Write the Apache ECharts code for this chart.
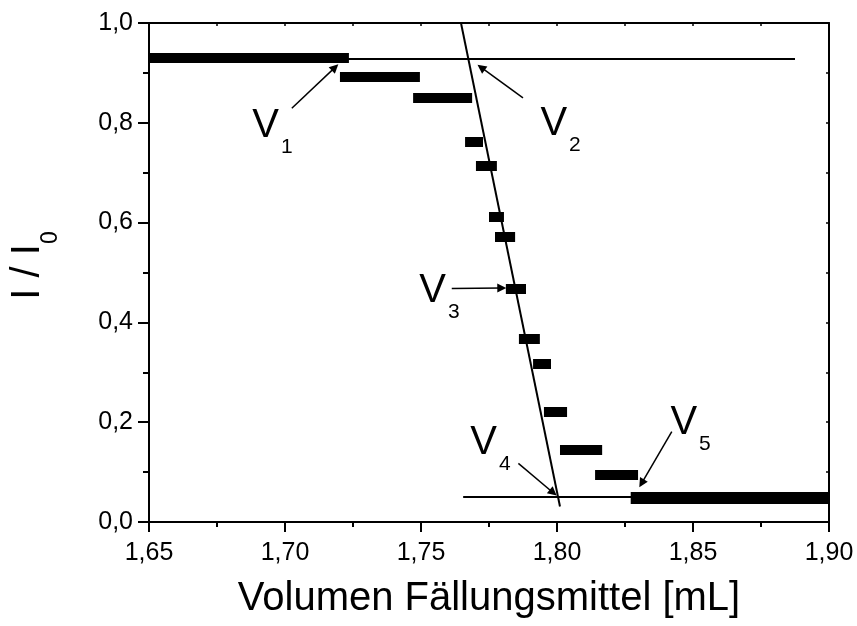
<!DOCTYPE html>
<html>
<head>
<meta charset="utf-8">
<script src="https://cdn.jsdelivr.net/npm/echarts@6/dist/echarts.min.js"></script>
<style>
html,body{margin:0;padding:0;background:#fff;}
#chart{width:857px;height:626px;}
</style>
</head>
<body>
<div id="chart"></div>
<script>
// Plateau segments of the measured curve (volume from / to, I/I0 level)
var segStart = [1.6500, 1.7202, 1.7471, 1.7662, 1.7702, 1.7750, 1.7772, 1.7812, 1.7860, 1.7912, 1.7952, 1.8011, 1.8140, 1.8271];
var segEnd   = [1.7235, 1.7496, 1.7688, 1.7728, 1.7779, 1.7805, 1.7846, 1.7886, 1.7937, 1.7978, 1.8037, 1.8166, 1.8298, 1.9000];
var segLevel = [0.930, 0.893, 0.850, 0.7615, 0.7134, 0.6118, 0.5718, 0.4683, 0.3674, 0.318, 0.221, 0.1449, 0.0948, 0.0491];

// Fitted straight lines (x pair, y pair)
var upperFitX = [1.6500, 1.8875];
var upperFitY = [0.929, 0.929];
var lowerFitX = [1.7655, 1.8500];
var lowerFitY = [0.0507, 0.0507];
var steepFitX = [1.7647, 1.8011];
var steepFitY = [1.000, 0.031];

// Annotation arrows (tail -> head)
var arrowFromX = [1.7025, 1.7875, 1.7613, 1.7858, 1.8422];
var arrowFromY = [0.829, 0.850, 0.468, 0.1176, 0.181];
var arrowToX   = [1.7184, 1.7721, 1.7797, 1.7986, 1.8311];
var arrowToY   = [0.911, 0.911, 0.469, 0.0587, 0.0776];

// Annotation labels V1..V5 (anchor = left edge / middle of "V")
var labelSubs = ['1', '2', '3', '4', '5'];
var labelX = [1.68800, 1.79390, 1.74940, 1.76815, 1.84170];
var labelY = [0.7936, 0.7976, 0.4639, 0.1583, 0.1994];

// Axis settings
var xMin = 1.65, xMax = 1.90, xStep = 0.05;
var yMin = 0.0, yMax = 1.0, yStep = 0.2;
var xTitle = 'Volumen Fällungsmittel [mL]';

var FONT = '"Liberation Sans", Arial, Helvetica, sans-serif';

var barData = segStart.map(function (s, i) {
  return {
    coords: [[s, segLevel[i]], [segEnd[i], segLevel[i]]],
    lineStyle: { width: i === segStart.length - 1 ? 12 : 10 }
  };
});
var fitData = [
  { coords: [[upperFitX[0], upperFitY[0]], [upperFitX[1], upperFitY[1]]] },
  { coords: [[lowerFitX[0], lowerFitY[0]], [lowerFitX[1], lowerFitY[1]]] },
  { coords: [[steepFitX[0], steepFitY[0]], [steepFitX[1], steepFitY[1]]] }
];
var arrowData = arrowFromX.map(function (x, i) {
  return { coords: [[x, arrowFromY[i]], [arrowToX[i], arrowToY[i]]] };
});
var labelData = labelX.map(function (x, i) { return [x, labelY[i]]; });

var chart = echarts.init(document.getElementById('chart'), null, { renderer: 'canvas' });

var axisLineStyle = { color: '#000', width: 2 };

chart.setOption({
  animation: false,
  backgroundColor: '#fff',
  grid: { left: 149, right: 28, top: 23, bottom: 104, containLabel: false },
  xAxis: [{
    type: 'value', min: xMin, max: xMax, interval: xStep, position: 'bottom',
    axisLine: { show: true, onZero: false, lineStyle: axisLineStyle },
    axisTick: { show: true, inside: false, length: 10, lineStyle: { color: '#000', width: 2 } },
    minorTick: { show: true, splitNumber: 2, length: 5, lineStyle: { color: '#000', width: 2 } },
    splitLine: { show: false },
    axisLabel: {
      show: true, margin: 19, color: '#000', fontSize: 25, fontFamily: FONT,
      formatter: function (v) { return v.toFixed(2).replace('.', ','); }
    },
    name: xTitle, nameLocation: 'middle', nameGap: 57,
    nameTextStyle: { color: '#000', fontSize: 40, fontFamily: FONT }
  }, {
    type: 'value', min: xMin, max: xMax, interval: xStep, position: 'top',
    axisLine: { show: true, onZero: false, lineStyle: axisLineStyle },
    axisTick: { show: true, inside: true, length: 3, lineStyle: { color: '#000', width: 1.5 } },
    minorTick: { show: true, splitNumber: 2, length: 3, lineStyle: { color: '#000', width: 1.5 } },
    splitLine: { show: false },
    axisLabel: { show: false }
  }],
  yAxis: [{
    type: 'value', min: yMin, max: yMax, interval: yStep, position: 'left',
    axisLine: { show: true, onZero: false, lineStyle: axisLineStyle },
    axisTick: { show: true, inside: false, length: 11, lineStyle: { color: '#000', width: 2 } },
    minorTick: { show: true, splitNumber: 2, length: 6, lineStyle: { color: '#000', width: 2 } },
    splitLine: { show: false },
    axisLabel: {
      show: true, margin: 16, color: '#000', fontSize: 25, fontFamily: FONT,
      formatter: function (v) { return v.toFixed(1).replace('.', ','); }
    },
    name: '{a|I / I}{b|0}', nameLocation: 'middle', nameGap: 87,
    nameTextStyle: {
      color: '#000', fontFamily: FONT, padding: [0, 0, 0, 14],
      rich: {
        a: { fontSize: 40, lineHeight: 68, fontFamily: FONT, color: '#000' },
        b: { fontSize: 23, lineHeight: 23, verticalAlign: 'bottom', fontFamily: FONT, color: '#000' }
      }
    }
  }, {
    type: 'value', min: yMin, max: yMax, interval: yStep, position: 'right',
    axisLine: { show: true, onZero: false, lineStyle: axisLineStyle },
    axisTick: { show: true, inside: true, length: 3, lineStyle: { color: '#000', width: 1.5 } },
    minorTick: { show: true, splitNumber: 2, length: 3, lineStyle: { color: '#000', width: 1.5 } },
    splitLine: { show: false },
    axisLabel: { show: false }
  }],
  series: [{
    type: 'lines', coordinateSystem: 'cartesian2d', xAxisIndex: 0, yAxisIndex: 0,
    polyline: false, silent: true, z: 3,
    lineStyle: { color: '#000', width: 2, opacity: 1, cap: 'butt' },
    data: fitData
  }, {
    type: 'lines', coordinateSystem: 'cartesian2d', xAxisIndex: 0, yAxisIndex: 0,
    polyline: false, silent: true, z: 4,
    lineStyle: { color: '#000', width: 10, opacity: 1, cap: 'butt' },
    data: barData
  }, {
    type: 'lines', coordinateSystem: 'cartesian2d', xAxisIndex: 0, yAxisIndex: 0,
    polyline: false, silent: true, z: 5,
    symbol: ['none', 'triangle'], symbolSize: [8, 9],
    lineStyle: { color: '#000', width: 1.5, opacity: 1 },
    data: arrowData
  }, {
    type: 'scatter', xAxisIndex: 0, yAxisIndex: 0, silent: true, z: 6,
    symbolSize: 1, itemStyle: { color: 'rgba(0,0,0,0)' },
    label: {
      show: true, position: 'inside', align: 'left', verticalAlign: 'middle',
      color: '#000', textBorderWidth: 0, textBorderColor: 'transparent', opacity: 1,
      formatter: function (p) { return '{v|V}{s|' + labelSubs[p.dataIndex] + '}'; },
      rich: {
        v: { fontSize: 40, lineHeight: 64, fontFamily: FONT, color: '#000', textBorderWidth: 0 },
        s: { fontSize: 21, lineHeight: 21, verticalAlign: 'bottom', fontFamily: FONT, color: '#000', textBorderWidth: 0, padding: [0, 0, 0, 2] }
      }
    },
    data: labelData
  }]
});
</script>
</body>
</html>
